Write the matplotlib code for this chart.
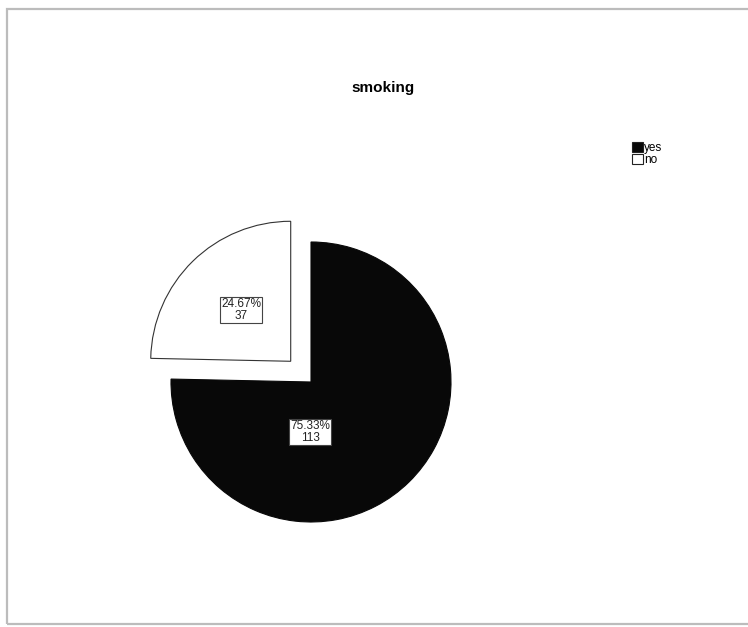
#!/usr/bin/env python
# -*- encoding: utf8 -*-

import matplotlib
matplotlib.use("Agg")
import matplotlib.pyplot as plt
import matplotlib.patches as mpatches

# data
categories = ["yes", "no"]
counts = [113, 37]
percents = [75.33, 24.67]
colors = ["#080808", "#ffffff"]
explode_px = [0, 29]

plt.rcParams['font.family'] = ['Liberation Sans', 'DejaVu Sans']

W, H = 748, 627
fig = plt.figure(figsize=(W / 100.0, H / 100.0), dpi=100)

# frame around the chart (like an exported SPSS viewer)
fig.patches.append(mpatches.Rectangle((7.0 / W, 1 - 624.0 / H), 1.0, (624.0 - 9.0) / H,
                                      transform=fig.transFigure, fill=False,
                                      edgecolor="#bcbcbc", linewidth=1.6))

# axes in pixel units so the pie sits where it should
ax = fig.add_axes([0, 0, 1, 1])

cx, cy, r = 311, H - 382, 140
# explode is in data units when center/radius are given in pixels
wedges, _ = ax.pie(counts, colors=colors, startangle=90, counterclock=False,
                   center=(cx, cy), radius=r, frame=True,
                   explode=explode_px,
                   wedgeprops=dict(edgecolor="#333333", linewidth=0.8))
wedges[0].set_edgecolor("#080808")
ax.set_xlim(0, W)
ax.set_ylim(0, H)
ax.set_aspect("equal")
ax.axis("off")

# labels in small boxes
label_pos = [(cx - 1, cy - 50), (cx - 70, cy + 72)]
for (lx, ly), p, n in zip(label_pos, percents, counts):
    ax.text(lx, ly, "%.2f%%\n%d" % (p, n), ha="center", va="center",
            fontsize=8.5, linespacing=0.95, color="#222222",
            bbox=dict(boxstyle="square,pad=0.1", facecolor="white",
                      edgecolor="#444444", linewidth=0.8))

fig.text(383.0 / W, 1 - 88.0 / H, "smoking", ha="center", va="center",
         fontsize=11, fontweight="bold")

handles = [mpatches.Patch(facecolor=c, edgecolor="#222222", linewidth=0.8)
           for c in colors]
fig.legend(handles, categories, loc="upper left",
           bbox_to_anchor=(624.0 / W, 1 - 134.0 / H), frameon=False,
           fontsize=8.5, handlelength=0.9, handleheight=0.9, handletextpad=0.1,
           labelspacing=0.0, borderpad=0.2)

fig.savefig("out.png", dpi=100)
